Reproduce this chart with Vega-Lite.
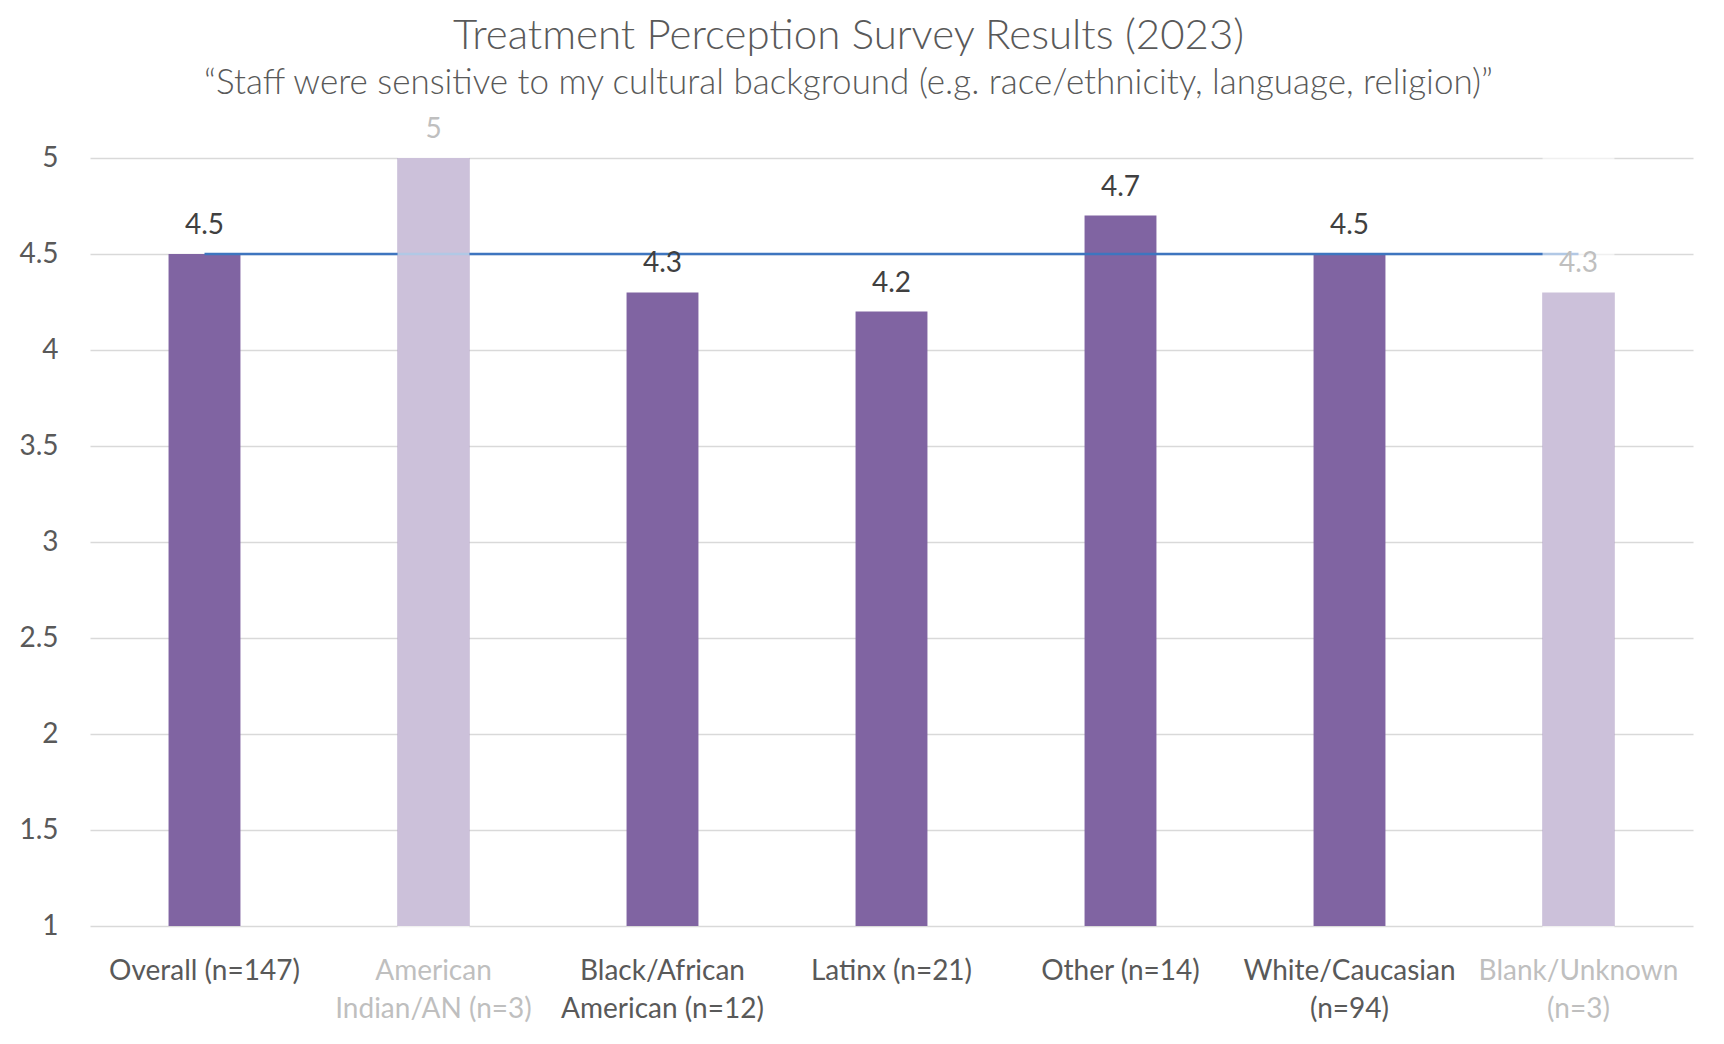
{
  "$schema": "https://vega.github.io/schema/vega-lite/v6.json",
  "width": 1603,
  "height": 768,
  "autosize": {"type": "none"},
  "padding": {"left": 90, "top": 158, "right": 31, "bottom": 118},
  "background": "white",
  "title": {
    "text": "Treatment Perception Survey Results (2023)",
    "subtitle": "“Staff were sensitive to my cultural background (e.g. race/ethnicity, language, religion)”",
    "anchor": "middle",
    "dx": -43,
    "font": "Lato",
    "fontSize": 42,
    "fontWeight": 300,
    "color": "#595959",
    "subtitleFont": "Lato",
    "subtitleFontSize": 35,
    "subtitleFontWeight": 300,
    "subtitleColor": "#595959",
    "subtitlePadding": 8,
    "offset": 14
  },
  "datasets": {
    "groups": [
      {"group": "Overall (n=147)", "score": 4.5, "faded": false},
      {"group": "American|Indian/AN (n=3)", "score": 5, "faded": true},
      {"group": "Black/African|American (n=12)", "score": 4.3, "faded": false},
      {"group": "Latinx (n=21)", "score": 4.2, "faded": false},
      {"group": "Other (n=14)", "score": 4.7, "faded": false},
      {"group": "White/Caucasian|(n=94)", "score": 4.5, "faded": false},
      {"group": "Blank/Unknown|(n=3)", "score": 4.3, "faded": true}
    ],
    "overall": [
      {"group": "Overall (n=147)", "overall": 4.5},
      {"group": "American|Indian/AN (n=3)", "overall": 4.5},
      {"group": "Black/African|American (n=12)", "overall": 4.5},
      {"group": "Latinx (n=21)", "overall": 4.5},
      {"group": "Other (n=14)", "overall": 4.5},
      {"group": "White/Caucasian|(n=94)", "overall": 4.5},
      {"group": "Blank/Unknown|(n=3)", "overall": 4.5}
    ]
  },
  "config": {
    "view": {"stroke": null},
    "axis": {"labelFont": "Lato", "labelFontSize": 28, "labelColor": "#595959", "domain": false, "ticks": false, "title": null, "labelLimit": 0}
  },
  "encoding": {
    "x": {
      "field": "group",
      "type": "nominal",
      "sort": null,
      "scale": {"paddingInner": 0.686, "paddingOuter": 0.343},
      "axis": {
        "labelAngle": 0,
        "labelPadding": 31,
        "labelBaseline": "top",
        "labelLineHeight": 38,
        "labelExpr": "split(datum.value, '|')",
        "labelColor": {"condition": {"test": "indexof(datum.value, 'American|') == 0 || indexof(datum.value, 'Blank') == 0", "value": "#bfbfbf"}, "value": "#595959"},
        "grid": false
      }
    }
  },
  "layer": [
    {
      "data": {"name": "groups"},
      "mark": {"type": "bar", "color": "#8064a2"},
      "encoding": {
        "y": {
          "field": "score",
          "type": "quantitative",
          "scale": {"domain": [1, 5], "nice": false, "zero": false},
          "axis": {
            "values": [1, 1.5, 2, 2.5, 3, 3.5, 4, 4.5, 5],
            "format": "~g",
            "labelPadding": 32,
            "grid": true,
            "gridColor": "#d9d9d9",
            "gridWidth": 1.6
          }
        },
        "y2": {"datum": 1}
      }
    },
    {
      "data": {"name": "overall"},
      "mark": {"type": "line", "color": "#3e75bf", "strokeWidth": 2.5},
      "encoding": {
        "y": {"field": "overall", "type": "quantitative"}
      }
    },
    {
      "data": {"name": "groups"},
      "transform": [{"filter": "datum.faded"}],
      "mark": {"type": "rect", "color": "white", "opacity": 0.6, "width": {"band": 1}},
      "encoding": {
        "y": {"datum": 0.985},
        "y2": {"datum": 5.015}
      }
    },
    {
      "data": {"name": "groups"},
      "mark": {"type": "text", "font": "Lato", "fontSize": 28, "baseline": "bottom", "dy": -14},
      "encoding": {
        "y": {"field": "score", "type": "quantitative"},
        "text": {"field": "score", "type": "quantitative", "format": "~g"},
        "color": {"condition": {"test": "datum.faded", "value": "#bfbfbf"}, "value": "#404040"}
      }
    }
  ]
}
